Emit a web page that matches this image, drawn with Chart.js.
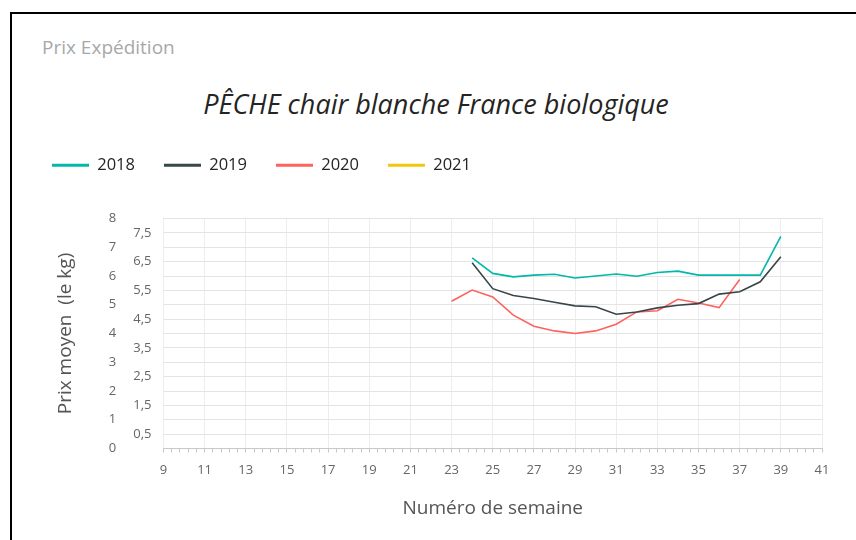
<!DOCTYPE html>
<html>
<head>
<meta charset="utf-8">
<script src="https://cdn.jsdelivr.net/npm/chart.js@4"></script>
<style>
  body { margin: 0; background: #fff; }
  #wrap { position: relative; width: 856px; height: 540px; overflow: hidden; }
  #card {
    position: absolute; left: 10px; top: 12px; right: -10px; bottom: -10px;
    border-left: 2px solid #000; border-top: 2px solid #000;
  }
  #header {
    position: absolute; left: 42px; top: 34px; line-height: 26px;
    font-family: "Open Sans", sans-serif; font-size: 19px; color: #a8a8a8;
  }
  #title {
    position: absolute; left: 0; width: 872px; top: 88px; line-height: 32px;
    text-align: center; font-family: "Open Sans", sans-serif; font-style: italic;
    font-size: 27px; color: #252423;
  }
  canvas { position: absolute; left: 0; top: 0; }
</style>
</head>
<body>
<div id="wrap">
  <div id="card"></div>
  <div id="header">Prix Expédition</div>
  <div id="title">PÊCHE chair blanche France biologique</div>
  <canvas id="chart" width="856" height="540"></canvas>
</div>
<script>
// weeks and prices (per kg)
const weeks2018 = [24, 25, 26, 27, 28, 29, 30, 31, 32, 33, 34, 35, 36, 37, 38, 39];
const price2018 = [6.63, 6.09, 5.97, 6.03, 6.06, 5.93, 6.0, 6.07, 5.99, 6.12, 6.17, 6.03, 6.03, 6.03, 6.03, 7.38];

const weeks2019 = [24, 25, 26, 27, 28, 29, 30, 31, 32, 33, 34, 35, 36, 37, 38, 39];
const price2019 = [6.46, 5.56, 5.32, 5.22, 5.09, 4.96, 4.93, 4.67, 4.75, 4.89, 4.98, 5.04, 5.37, 5.45, 5.8, 6.67];

const weeks2020 = [23, 24, 25, 26, 27, 28, 29, 30, 31, 32, 33, 34, 35, 36, 37];
const price2020 = [5.12, 5.51, 5.27, 4.64, 4.25, 4.09, 4.0, 4.09, 4.32, 4.75, 4.79, 5.19, 5.06, 4.9, 5.88];

const weeks2021 = [];
const price2021 = [];

const toPoints = (weeks, prices) => weeks.map((w, i) => ({ x: w, y: prices[i] }));

const fontFamily = "'Open Sans', sans-serif";
const tickColor = "#666666";

// push the plot down a bit below the legend
const legendGap = {
  id: "legendGap",
  beforeInit(chart) {
    const fit = chart.legend.fit;
    chart.legend.fit = function () {
      fit.bind(chart.legend)();
      this.height += 35;
    };
  },
};

const ctx = document.getElementById("chart").getContext("2d");

new Chart(ctx, {
  type: "line",
  data: {
    datasets: [
      { label: "2018", data: toPoints(weeks2018, price2018), borderColor: "#01B8AA", backgroundColor: "#01B8AA" },
      { label: "2019", data: toPoints(weeks2019, price2019), borderColor: "#374649", backgroundColor: "#374649" },
      { label: "2020", data: toPoints(weeks2020, price2020), borderColor: "#FD625E", backgroundColor: "#FD625E" },
      { label: "2021", data: toPoints(weeks2021, price2021), borderColor: "#F2C80F", backgroundColor: "#F2C80F" },
    ].map((ds) => ({ ...ds, xAxisID: "x", yAxisID: "y" })),
  },
  plugins: [legendGap],
  options: {
    responsive: false,
    animation: false,
    layout: { padding: { left: 23, right: 34, top: 128, bottom: 19.6 } },
    elements: {
      line: { tension: 0, borderWidth: 1.6 },
      point: { radius: 0 },
    },
    plugins: {
      tooltip: { enabled: false },
      title: { display: false },
      legend: {
        position: "top",
        align: "start",
        labels: {
          boxWidth: 37,
          boxHeight: 3,
          padding: 29,
          color: "#252423",
          font: { family: fontFamily, size: 16.5 },
          generateLabels: (chart) =>
            chart.data.datasets.map((ds, i) => ({
              text: ds.label,
              fillStyle: ds.borderColor,
              strokeStyle: ds.borderColor,
              lineWidth: 0,
              datasetIndex: i,
              fontColor: "#252423",
            })),
        },
      },
    },
    scales: {
      x2: {
        type: "linear",
        position: "bottom",
        weight: 0,
        min: 9,
        max: 41,
        ticks: { display: false, stepSize: 0.4, autoSkip: false },
        grid: { drawOnChartArea: false, tickLength: 4, color: "#c8c8c8" },
        border: { display: true, color: "#c8c8c8" },
      },
      x: {
        type: "linear",
        position: "bottom",
        weight: 1,
        min: 9,
        max: 41,
        ticks: { stepSize: 2, padding: 10, color: tickColor, font: { family: fontFamily, size: 13 } },
        grid: { drawTicks: false, color: "#ededed" },
        border: { display: false },
        title: {
          display: true,
          text: "Numéro de semaine",
          color: "#555555",
          font: { family: fontFamily, size: 19 },
          padding: { top: 9.5, bottom: 0 },
        },
      },
      y: {
        position: "left",
        weight: 0,
        min: 0,
        max: 8,
        ticks: {
          stepSize: 0.5,
          autoSkip: false,
          padding: 12,
          color: tickColor,
          font: { family: fontFamily, size: 13 },
          callback: (v) => (v % 1 !== 0 ? String(v).replace(".", ",") : ""),
        },
        grid: { drawTicks: false, color: "#e4e4e4" },
        border: { display: false },
      },
      y2: {
        position: "left",
        display: true,
        weight: 1,
        min: 0,
        max: 8,
        ticks: {
          stepSize: 1,
          autoSkip: false,
          padding: 5,
          color: tickColor,
          font: { family: fontFamily, size: 13 },
          callback: (v) => String(v),
        },
        grid: { display: false, drawTicks: false },
        border: { display: false },
        title: {
          display: true,
          text: "Prix moyen  (le kg)",
          color: "#555555",
          font: { family: fontFamily, size: 19 },
          padding: { top: 31, bottom: 27 },
        },
      },
    },
  },
});
</script>
</body>
</html>
